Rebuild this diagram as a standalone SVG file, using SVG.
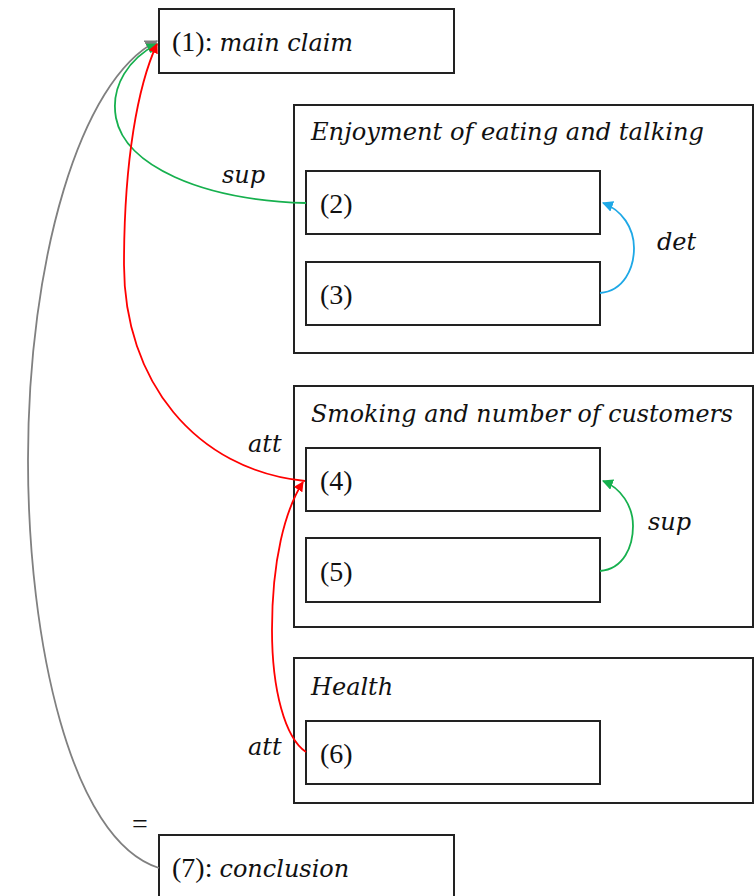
<svg xmlns="http://www.w3.org/2000/svg" width="756" height="896" viewBox="0 0 756 896">
  <style>
    .box { fill: #ffffff; stroke: #222222; stroke-width: 2; }
    .grp { fill: #ffffff; stroke: #222222; stroke-width: 2; }
    text { font-family: "Liberation Serif", "DejaVu Serif", serif; font-size: 28px; fill: #111111; }
    .it { font-family: "DejaVu Serif", "Liberation Serif", serif; font-style: italic; font-size: 24px; }
    .edge { fill: none; stroke-width: 1.8; }
  </style>
  <defs>
    <marker id="ah-red" viewBox="0 0 10 10" refX="9" refY="5" markerWidth="10" markerHeight="10" markerUnits="userSpaceOnUse" orient="auto">
      <path d="M0,0 L10,5 L0,10 z" fill="#ff0000"/>
    </marker>
    <marker id="ah-green" viewBox="0 0 10 10" refX="9" refY="5" markerWidth="11" markerHeight="11" markerUnits="userSpaceOnUse" orient="auto">
      <path d="M0,0 L10,5 L0,10 z" fill="#16b04e"/>
    </marker>
    <marker id="ah-blue" viewBox="0 0 10 10" refX="9" refY="5" markerWidth="11" markerHeight="11" markerUnits="userSpaceOnUse" orient="auto">
      <path d="M0,0 L10,5 L0,10 z" fill="#1ea8e6"/>
    </marker>
    <marker id="ah-gray" viewBox="0 0 10 10" refX="9" refY="5" markerWidth="13" markerHeight="13" markerUnits="userSpaceOnUse" orient="auto">
      <path d="M0,0 L10,5 L0,10 z" fill="#808080"/>
    </marker>
  </defs>

  <!-- topic groups -->
  <g id="group-enjoyment">
    <rect class="grp" x="294" y="105" width="459" height="248"/>
    <text class="it" x="311" y="140" textLength="393" lengthAdjust="spacingAndGlyphs">Enjoyment of eating and talking</text>
  </g>
  <g id="group-smoking">
    <rect class="grp" x="294" y="386" width="459" height="241"/>
    <text class="it" x="311" y="422" textLength="422" lengthAdjust="spacingAndGlyphs">Smoking and number of customers</text>
  </g>
  <g id="group-health">
    <rect class="grp" x="294" y="658" width="459" height="145"/>
    <text class="it" x="311" y="695">Health</text>
  </g>

  <!-- statement nodes -->
  <g id="node-1">
    <rect class="box" x="159" y="9" width="295" height="64"/>
    <text x="172" y="51">(1): <tspan class="it">main claim</tspan></text>
  </g>
  <g id="node-2">
    <rect class="box" x="306" y="171" width="294" height="63"/>
    <text x="320" y="213">(2)</text>
  </g>
  <g id="node-3">
    <rect class="box" x="306" y="262" width="294" height="63"/>
    <text x="320" y="304">(3)</text>
  </g>
  <g id="node-4">
    <rect class="box" x="306" y="448" width="294" height="63"/>
    <text x="320" y="490">(4)</text>
  </g>
  <g id="node-5">
    <rect class="box" x="306" y="538" width="294" height="64"/>
    <text x="320" y="581">(5)</text>
  </g>
  <g id="node-6">
    <rect class="box" x="306" y="721" width="294" height="63"/>
    <text x="320" y="763">(6)</text>
  </g>
  <g id="node-7">
    <rect class="box" x="159" y="835" width="295" height="70"/>
    <text x="172" y="877">(7): <tspan class="it">conclusion</tspan></text>
  </g>

  <!-- relations -->
  <g id="connectors">
    <path class="edge" stroke="#808080" d="M159,868 C70,840 28,640 28,460 C28,260 80,80 157,41" marker-end="url(#ah-gray)"/>
    <path class="edge" stroke="#16b04e" d="M306,203 C200,200 125,165 116,118 C110,85 130,58 157,44" marker-end="url(#ah-green)"/>
    <path class="edge" stroke="#ff0000" d="M305,481 C195,470 124,380 124,265 C124,160 138,85 157,44" marker-end="url(#ah-red)"/>
    <path class="edge" stroke="#ff0000" d="M306,752 C285,738 272,690 272,630 C272,560 285,510 303,482" marker-end="url(#ah-red)"/>
    <path class="edge" stroke="#1ea8e6" d="M600,293 C624,291 634,268 634,248 C634,228 622,210 603,203" marker-end="url(#ah-blue)"/>
    <path class="edge" stroke="#16b04e" d="M600,571 C624,569 633,546 633,526 C633,506 621,488 603,481" marker-end="url(#ah-green)"/>
    <text class="it" x="222" y="183">sup</text>
    <text class="it" x="657" y="250">det</text>
    <text class="it" x="248" y="452">att</text>
    <text class="it" x="648" y="530">sup</text>
    <text class="it" x="248" y="755">att</text>
    <text x="132" y="833">=</text>
  </g>
</svg>
